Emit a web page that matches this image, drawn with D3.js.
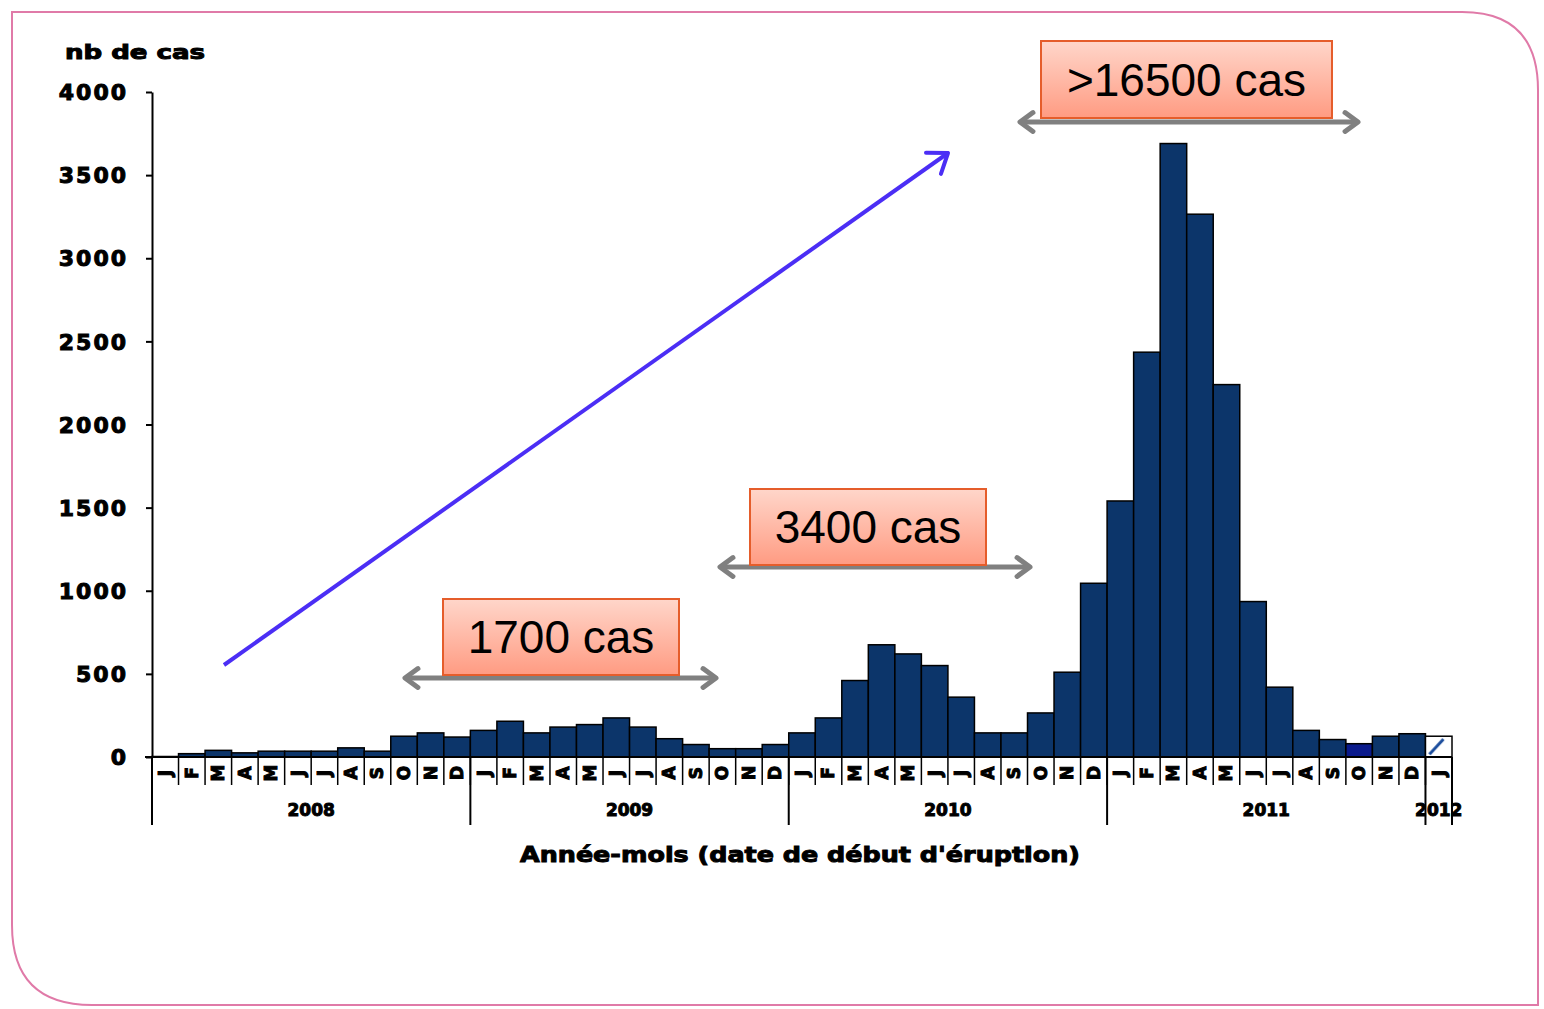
<!DOCTYPE html>
<html>
<head>
<meta charset="utf-8">
<script src="https://cdn.jsdelivr.net/npm/d3@7"></script>
<style>
  body { margin: 0; background: #fff; }
  svg { display: block; }
  .heavy { font-family: "DejaVu Sans", sans-serif; font-weight: bold; fill: #000; stroke: #000; stroke-width: 1; }
</style>
</head>
<body>
<script>
const width = 1544;
const height = 1009;

// data: monthly number of cases (by date of rash onset)
var monthLabels = ["J", "F", "M", "A", "M", "J", "J", "A", "S", "O", "N", "D"];
var years = [2008, 2009, 2010, 2011, 2012];
var cases2008 = [3, 20, 40, 25, 35, 35, 35, 55, 35, 125, 145, 120];
var cases2009 = [160, 215, 145, 180, 195, 235, 180, 110, 75, 50, 50, 75];
var cases2010 = [145, 235, 460, 675, 620, 550, 360, 145, 145, 265, 510, 1045];
var cases2011 = [1540, 2435, 3690, 3265, 2240, 935, 420, 160, 105, 80, 125, 140];
var cases2012 = [125];
var yTicks = [0, 500, 1000, 1500, 2000, 2500, 3000, 3500, 4000];
var periodLabels = ["1700 cas", "3400 cas", ">16500 cas"];

var allCases = [cases2008, cases2009, cases2010, cases2011, cases2012];
var data = [];
allCases.forEach(function(vals, yi) {
  vals.forEach(function(v, mi) {
    data.push({ key: years[yi] + "-" + (mi + 1), year: years[yi], month: mi, label: monthLabels[mi], value: v });
  });
});

var svg = d3.select("body")
  .append("svg")
  .attr("width", width)
  .attr("height", height);

var defs = svg.append("defs");

// gradient for the annotation boxes
var grad = defs.append("linearGradient")
  .attr("id", "boxGrad")
  .attr("x1", 0).attr("y1", 0).attr("x2", 0).attr("y2", 1);
grad.append("stop").attr("offset", "0%").attr("stop-color", "#ffd6ca");
grad.append("stop").attr("offset", "100%").attr("stop-color", "#ff9b82");

// hatch for the last (incomplete) month
var hatch = defs.append("pattern")
  .attr("id", "hatch")
  .attr("patternUnits", "objectBoundingBox")
  .attr("width", 1).attr("height", 1);
hatch.append("rect").attr("width", 26).attr("height", 20).attr("fill", "#fff");
hatch.append("line")
  .attr("x1", 4).attr("y1", 18).attr("x2", 18).attr("y2", 3)
  .attr("stroke", "#1a4c9c").attr("stroke-width", 3);

// pink frame
var frame = d3.path();
frame.moveTo(12, 12);
frame.lineTo(1462, 12);
frame.quadraticCurveTo(1538, 12, 1538, 90);
frame.lineTo(1538, 1005);
frame.lineTo(92, 1005);
frame.quadraticCurveTo(12, 1005, 12, 925);
frame.closePath();
svg.append("path")
  .attr("d", frame.toString())
  .attr("fill", "none")
  .attr("stroke", "#e07aa8")
  .attr("stroke-width", 2);

//scales

var x = d3.scaleBand()
  .domain(data.map(d => d.key))
  .range([152, 1452])
  .paddingInner(0)
  .paddingOuter(0);

var y = d3.scaleLinear()
  .domain([0, 4000])
  .range([757, 92]);

//bars

svg.append("g")
  .selectAll("rect")
  .data(data)
  .enter()
  .append("rect")
  .attr("x", d => x(d.key))
  .attr("y", d => y(d.value))
  .attr("width", x.bandwidth())
  .attr("height", d => y(0) - y(d.value))
  .attr("fill", function(d) {
    if (d.year === 2012) return "url(#hatch)";
    if (d.year === 2011 && d.month === 9) return "#0a1a8c";
    return "#0c356a";
  })
  .attr("stroke", "#000")
  .attr("stroke-width", 1.5);

//y axis

var y_axis = d3.axisLeft(y)
  .tickValues(yTicks)
  .tickFormat(d3.format("d"))
  .tickSize(6)
  .tickSizeOuter(0)
  .tickPadding(18);

var yg = svg.append("g")
  .attr("transform", "translate(152,0)")
  .call(y_axis);
yg.selectAll("path, line").attr("stroke", "#000").attr("stroke-width", 2);
yg.selectAll("text")
  .attr("class", "heavy")
  .attr("font-size", 22)
  .attr("letter-spacing", 2)
  .attr("dy", "0.35em");

//x axis: base line, month separators, month letters, year separators

svg.append("line")
  .attr("x1", 145).attr("x2", x.range()[1])
  .attr("y1", y(0)).attr("y2", y(0))
  .attr("stroke", "#000").attr("stroke-width", 2);

svg.append("g")
  .selectAll("line")
  .data(data)
  .enter()
  .append("line")
  .attr("x1", d => x(d.key)).attr("x2", d => x(d.key))
  .attr("y1", y(0)).attr("y2", y(0) + 28)
  .attr("stroke", "#000").attr("stroke-width", 1.5);

svg.append("g")
  .selectAll("text")
  .data(data)
  .enter()
  .append("text")
  .attr("class", "heavy")
  .attr("font-size", 17)
  .attr("text-anchor", "middle")
  .attr("dy", "0.35em")
  .attr("transform", d => "translate(" + (x(d.key) + x.bandwidth() / 2) + "," + (y(0) + 16) + ") rotate(-90)")
  .text(d => d.label);

var yearBounds = years.map(function(yr) {
  var keys = data.filter(d => d.year === yr).map(d => d.key);
  return { year: yr, x0: x(keys[0]), x1: x(keys[keys.length - 1]) + x.bandwidth() };
});

var yearLines = yearBounds.map(d => d.x0).concat([x.range()[1]]);
svg.append("g")
  .selectAll("line")
  .data(yearLines)
  .enter()
  .append("line")
  .attr("x1", d => d).attr("x2", d => d)
  .attr("y1", y(0)).attr("y2", y(0) + 68)
  .attr("stroke", "#000").attr("stroke-width", 2);

svg.append("g")
  .selectAll("text")
  .data(yearBounds)
  .enter()
  .append("text")
  .attr("class", "heavy")
  .attr("font-size", 17)
  .attr("text-anchor", "middle")
  .attr("x", d => (d.x0 + d.x1) / 2)
  .attr("y", y(0) + 59)
  .text(d => d.year);

//axis titles

svg.append("text")
  .attr("class", "heavy")
  .attr("x", 65).attr("y", 59)
  .attr("font-size", 20)
  .attr("textLength", 140)
  .attr("lengthAdjust", "spacingAndGlyphs")
  .text("nb de cas");

svg.append("text")
  .attr("class", "heavy")
  .attr("x", 520).attr("y", 862)
  .attr("font-size", 22)
  .attr("stroke-width", 0.6)
  .attr("textLength", 560)
  .attr("lengthAdjust", "spacingAndGlyphs")
  .text("Année-mois (date de début d'éruption)");

//annotations: arrows and boxes

function arrowHead(g, xTip, yTip, angle, size, color, w) {
  var a1 = angle + Math.PI * 0.8, a2 = angle - Math.PI * 0.8;
  g.append("path")
    .attr("d", "M" + (xTip + size * Math.cos(a1)) + "," + (yTip + size * Math.sin(a1)) +
      "L" + xTip + "," + yTip +
      "L" + (xTip + size * Math.cos(a2)) + "," + (yTip + size * Math.sin(a2)))
    .attr("fill", "none")
    .attr("stroke", color)
    .attr("stroke-width", w)
    .attr("stroke-linecap", "round")
    .attr("stroke-linejoin", "round");
}

var ann = svg.append("g");

// trend arrow
var bx0 = 224, by0 = 665, bx1 = 948, by1 = 153;
ann.append("line")
  .attr("x1", bx0).attr("y1", by0).attr("x2", bx1).attr("y2", by1)
  .attr("stroke", "#4b2ef5").attr("stroke-width", 4);
arrowHead(ann, bx1, by1, Math.atan2(by1 - by0, bx1 - bx0), 22, "#4b2ef5", 4);

// period arrows (double headed)
var spans = [
  { x0: 405, x1: 716, y: 678, bx: 443, by: 599, bw: 236, bh: 76 },
  { x0: 720, x1: 1030, y: 567, bx: 750, by: 489, bw: 236, bh: 76 },
  { x0: 1020, x1: 1358, y: 122, bx: 1041, by: 41, bw: 291, bh: 77 }
];

spans.forEach(function(s, i) {
  ann.append("line")
    .attr("x1", s.x0 + 3).attr("x2", s.x1 - 3)
    .attr("y1", s.y).attr("y2", s.y)
    .attr("stroke", "#808080").attr("stroke-width", 5);
  arrowHead(ann, s.x0, s.y, Math.PI, 16, "#808080", 5);
  arrowHead(ann, s.x1, s.y, 0, 16, "#808080", 5);

  ann.append("rect")
    .attr("x", s.bx).attr("y", s.by)
    .attr("width", s.bw).attr("height", s.bh)
    .attr("fill", "url(#boxGrad)")
    .attr("stroke", "#e55d2b")
    .attr("stroke-width", 2);

  ann.append("text")
    .attr("x", s.bx + s.bw / 2)
    .attr("y", s.by + s.bh / 2 + 16)
    .attr("text-anchor", "middle")
    .attr("font-family", "Liberation Sans, Arial, sans-serif")
    .attr("font-size", 46)
    .attr("fill", "#000")
    .text(periodLabels[i]);
});
</script>
</body>
</html>
